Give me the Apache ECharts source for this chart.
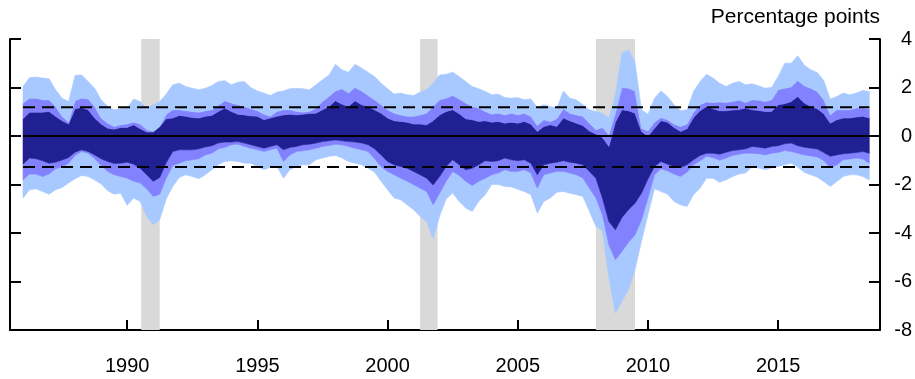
<!DOCTYPE html>
<html><head><meta charset="utf-8">
<script src="https://cdn.jsdelivr.net/npm/echarts@6/dist/echarts.min.js"></script>
<style>html,body{margin:0;padding:0;background:#fff}#c{width:915px;height:379px}</style>
</head><body><div id="c"></div>
<script>
const years = [1986,1986.25,1986.5,1986.75,1987,1987.25,1987.5,1987.75,1988,1988.25,1988.5,1988.75,1989,1989.25,1989.5,1989.75,1990,1990.25,1990.5,1990.75,1991,1991.25,1991.5,1991.75,1992,1992.25,1992.5,1992.75,1993,1993.25,1993.5,1993.75,1994,1994.25,1994.5,1994.75,1995,1995.25,1995.5,1995.75,1996,1996.25,1996.5,1996.75,1997,1997.25,1997.5,1997.75,1998,1998.25,1998.5,1998.75,1999,1999.25,1999.5,1999.75,2000,2000.25,2000.5,2000.75,2001,2001.25,2001.5,2001.75,2002,2002.25,2002.5,2002.75,2003,2003.25,2003.5,2003.75,2004,2004.25,2004.5,2004.75,2005,2005.25,2005.5,2005.75,2006,2006.25,2006.5,2006.75,2007,2007.25,2007.5,2007.75,2008,2008.25,2008.5,2008.75,2009,2009.25,2009.5,2009.75,2010,2010.25,2010.5,2010.75,2011,2011.25,2011.5,2011.75,2012,2012.25,2012.5,2012.75,2013,2013.25,2013.5,2013.75,2014,2014.25,2014.5,2014.75,2015,2015.25,2015.5,2015.75,2016,2016.25,2016.5,2016.75,2017,2017.25,2017.5,2017.75,2018,2018.25,2018.5];

// outer (light) band upper / lower edges
const lightUpper = [2.04,2.41,2.43,2.39,2.36,1.91,1.56,1.42,2.50,2.52,2.25,1.97,1.50,1.22,1.08,1.12,1.15,1.53,1.42,1.15,1.29,1.42,1.73,
2.11,2.18,2.04,1.97,1.91,1.97,2.08,2.25,2.28,2.11,2.22,2.25,2.00,1.86,1.77,1.67,1.81,1.86,1.95,1.97,1.95,1.91,
2.11,2.32,2.52,2.96,2.73,2.63,2.96,2.80,2.63,2.45,2.18,1.95,1.73,1.77,1.70,1.67,1.81,1.91,2.18,2.52,2.55,2.63,
2.45,2.25,2.04,1.95,1.84,1.70,1.73,1.59,1.56,1.59,1.49,1.53,1.18,1.29,1.22,1.15,1.86,1.56,1.49,1.29,1.08,1.01,
0.94,0.74,1.70,3.42,3.55,3.07,1.08,0.90,1.56,1.86,1.63,1.29,1.04,1.08,1.84,2.25,2.55,2.39,2.18,2.04,2.18,2.25,2.11,
2.15,2.07,1.97,2.01,2.45,3.00,3.00,3.31,2.93,2.73,2.62,2.29,1.52,1.63,1.77,1.70,1.77,1.88,1.84];
const midUpper = [1.35,1.56,1.56,1.49,1.49,1.22,0.81,0.57,1.45,1.56,1.53,1.22,0.74,0.53,0.39,0.46,0.50,0.57,0.49,0.26,0.19,0.39,0.90,
1.08,1.08,1.04,1.01,0.98,1.04,1.08,1.26,1.45,1.36,1.29,1.22,1.12,1.04,0.90,0.81,1.01,1.08,1.08,1.01,0.98,1.01,
1.15,1.42,1.63,1.86,1.95,1.77,2.00,1.86,1.67,1.49,1.29,1.08,0.94,0.87,0.81,0.81,0.87,0.94,1.22,1.49,1.56,1.67,
1.53,1.36,1.22,1.15,1.01,0.90,0.94,0.87,0.94,0.87,0.94,0.81,0.43,0.67,0.60,0.71,1.12,0.94,0.87,0.81,0.53,0.26,
0.35,0.05,0.94,2.00,1.97,1.86,0.32,0.21,0.57,0.76,0.67,0.49,0.39,0.49,0.98,1.29,1.40,1.38,1.40,1.38,1.42,1.48,1.38,
1.49,1.47,1.42,1.49,1.91,1.97,2.02,2.29,2.07,1.97,1.84,1.49,0.87,1.08,1.08,1.08,1.15,1.15,1.11];
const darkUpper = [0.71,0.98,0.98,0.98,1.01,0.81,0.63,0.49,1.12,1.18,1.08,0.74,0.49,0.32,0.28,0.35,0.35,0.46,0.30,0.16,0.16,0.39,0.71,
0.74,0.85,0.81,0.76,0.74,0.81,0.85,1.01,1.15,1.01,0.90,0.87,0.83,0.81,0.67,0.74,0.81,0.87,0.90,0.87,0.90,0.93,
0.94,1.08,1.22,1.45,1.31,1.22,1.45,1.29,1.22,1.08,0.94,0.74,0.63,0.60,0.57,0.49,0.49,0.46,0.63,0.87,1.01,1.08,
0.92,0.71,0.67,0.60,0.63,0.57,0.60,0.53,0.57,0.53,0.60,0.49,0.19,0.39,0.46,0.39,0.74,0.63,0.53,0.43,0.21,0.08,
-0.06,-0.43,0.57,1.08,1.04,0.94,0.19,-0.02,0.32,0.63,0.57,0.35,0.19,0.30,0.76,1.04,1.22,1.12,1.04,1.04,1.07,1.09,1.15,
1.08,1.05,1.01,1.01,1.29,1.33,1.42,1.63,1.36,1.22,1.12,0.92,0.53,0.67,0.74,0.74,0.78,0.81,0.74];
const darkLower = [-1.16,-0.91,-0.94,-1.02,-1.12,-1.08,-0.99,-0.89,-0.67,-0.57,-0.64,-0.78,-0.94,-1.05,-1.13,-1.12,-1.08,-1.16,-1.33,-1.60,-1.87,-1.71,-1.10,
-0.64,-0.57,-0.57,-0.57,-0.53,-0.45,-0.40,-0.29,-0.25,-0.25,-0.23,-0.29,-0.36,-0.43,-0.50,-0.43,-0.36,-0.57,-0.47,-0.43,-0.36,-0.34,
-0.29,-0.23,-0.20,-0.16,-0.20,-0.23,-0.25,-0.29,-0.36,-0.53,-0.78,-1.05,-1.19,-1.26,-1.33,-1.46,-1.60,-1.74,-2.02,-1.67,-1.26,-0.98,
-1.19,-1.39,-1.33,-1.19,-1.02,-1.05,-1.02,-0.91,-0.98,-1.02,-0.98,-1.12,-1.60,-1.19,-1.12,-1.08,-1.02,-1.08,-1.12,-1.19,-1.46,-1.74,
-2.56,-3.53,-3.87,-3.36,-3.04,-2.77,-2.36,-1.77,-1.26,-1.05,-1.16,-1.26,-1.30,-1.19,-0.98,-0.80,-0.71,-0.71,-0.75,-0.67,-0.60,-0.57,-0.53,
-0.43,-0.46,-0.50,-0.43,-0.40,-0.32,-0.29,-0.40,-0.46,-0.50,-0.54,-0.68,-0.84,-0.78,-0.73,-0.71,-0.68,-0.64,-0.71];
const midLower = [-1.81,-1.57,-1.57,-1.67,-1.57,-1.35,-1.27,-1.12,-0.80,-0.64,-0.71,-0.94,-1.22,-1.46,-1.60,-1.67,-1.74,-1.87,-1.94,-2.18,-2.49,-2.40,-1.74,
-1.22,-1.12,-1.02,-0.98,-0.94,-0.78,-0.71,-0.53,-0.47,-0.36,-0.34,-0.43,-0.50,-0.57,-0.64,-0.57,-0.50,-1.05,-0.78,-0.64,-0.61,-0.57,
-0.50,-0.43,-0.39,-0.34,-0.36,-0.43,-0.50,-0.57,-0.64,-0.94,-1.26,-1.46,-1.60,-1.74,-1.87,-2.01,-2.15,-2.29,-2.84,-2.36,-1.87,-1.46,
-1.63,-1.87,-2.04,-1.87,-1.74,-1.60,-1.53,-1.39,-1.46,-1.46,-1.39,-1.53,-2.15,-1.60,-1.53,-1.46,-1.46,-1.53,-1.60,-1.74,-2.15,-2.56,
-3.25,-4.49,-5.10,-4.76,-4.38,-4.08,-3.46,-2.56,-1.60,-1.35,-1.44,-1.57,-1.67,-1.49,-1.19,-1.02,-0.84,-0.89,-1.00,-0.91,-0.80,-0.75,-0.71,
-0.71,-0.73,-0.78,-0.71,-0.68,-0.60,-0.64,-0.71,-0.78,-0.82,-0.87,-1.01,-1.32,-1.19,-0.98,-0.95,-0.91,-0.95,-1.12];
const lightLower = [-2.56,-2.22,-2.18,-2.29,-2.40,-2.22,-2.12,-1.94,-1.76,-1.63,-1.67,-1.81,-1.98,-2.26,-2.40,-2.36,-2.86,-2.56,-2.70,-3.32,-3.66,-3.45,-2.60,
-2.08,-1.71,-1.60,-1.67,-1.76,-1.60,-1.39,-1.19,-1.05,-1.02,-1.05,-1.12,-1.12,-1.26,-1.39,-1.30,-1.26,-1.74,-1.39,-1.26,-1.19,-1.19,
-0.98,-0.91,-0.84,-0.80,-0.91,-1.05,-1.12,-1.19,-1.33,-1.49,-1.87,-2.22,-2.56,-2.63,-2.84,-3.04,-3.32,-3.53,-4.24,-3.30,-2.60,-2.35,
-2.70,-2.97,-3.11,-2.70,-2.42,-2.00,-2.00,-2.08,-2.10,-2.20,-2.29,-2.42,-3.18,-2.70,-2.56,-2.32,-2.29,-2.36,-2.42,-2.49,-3.11,-3.73,
-3.90,-5.86,-7.30,-6.82,-6.34,-5.52,-4.35,-3.25,-2.18,-2.29,-2.40,-2.70,-2.84,-2.91,-2.42,-2.15,-1.74,-1.74,-1.91,-1.81,-1.67,-1.57,-1.53,
-1.26,-1.32,-1.39,-1.32,-1.26,-1.19,-1.12,-1.28,-1.50,-1.60,-1.70,-1.88,-2.08,-1.88,-1.67,-1.60,-1.60,-1.67,-1.81];

const recessions = [[1990.54, 1991.25], [2001.25, 2001.92], [2008.0, 2009.5]];
const xTickYears = [1990, 1995, 2000, 2005, 2010, 2015];
const thresholds = [1.19, -1.28];
const unitLabel = 'Percentage points';

const LIGHT = '#a8c9ff', MID = '#8282ff', DARK = '#202092', GRAY = '#d9d9d9';
const FONT = '"Liberation Sans", Arial, Helvetica, sans-serif';

// bands: between consecutive edges, from bottom to top
const edges = [lightLower, midLower, darkLower, darkUpper, midUpper, lightUpper];
const bandColors = [LIGHT, MID, DARK, MID, LIGHT];

function renderBand(params, api) {
  const k = params.dataIndex;
  const lo = edges[k], hi = edges[k + 1];
  const pts = [];
  for (let i = 0; i < years.length; i++) pts.push(api.coord([years[i], hi[i]]));
  for (let i = years.length - 1; i >= 0; i--) pts.push(api.coord([years[i], lo[i]]));
  return { type: 'polygon', shape: { points: pts }, style: { fill: bandColors[k], stroke: bandColors[k], lineWidth: 0.6 } };
}

const series = [];
series.push({ type: 'line', data: [], silent: true, z: 1,
  markArea: { silent: true, itemStyle: { color: GRAY }, data: recessions.map(r => [{ xAxis: r[0] }, { xAxis: r[1] }]) } });
series.push({ type: 'custom', silent: true, z: 2, renderItem: renderBand,
  data: bandColors.map((c, k) => [years[0], k]), encode: { x: 0, y: 1 } });
const x0 = years[0], x1 = years[years.length - 1];
series.push({ type: 'line', data: [[x0, 0], [x1, 0]], symbol: 'none', silent: true, z: 5,
  lineStyle: { color: '#000', width: 2.2 } });
thresholds.forEach(t => series.push({ type: 'line', data: [[x0, t], [x1, t]], symbol: 'none', silent: true, z: 5,
  lineStyle: { color: '#000', width: 2, type: [12, 7] } }));

const yCommon = { type: 'value', min: -8, max: 4, interval: 2, splitLine: { show: false },
  axisLine: { show: true, onZero: false, lineStyle: { color: '#000', width: 2 } },
  axisTick: { show: true, inside: true, length: 11, lineStyle: { color: '#000', width: 2 } } };

const chart = echarts.init(document.getElementById('c'), null, { renderer: 'canvas' });
chart.setOption({
  animation: false,
  backgroundColor: '#fff',
  grid: { left: 10, right: 33, top: 39, bottom: 49, containLabel: false },
  graphic: [{ type: 'text', right: 35, top: 7, style: { text: unitLabel, font: '21px ' + FONT, fill: '#000' } }],
  xAxis: { type: 'value', min: 1985.5, max: 2018.91, splitLine: { show: false },
    axisLine: { show: true, onZero: false, lineStyle: { color: '#000', width: 2 } },
    axisTick: { show: true, inside: true, length: 10, customValues: xTickYears, lineStyle: { color: '#000', width: 2 } },
    axisLabel: { show: true, customValues: xTickYears, margin: 26, fontSize: 20, color: '#000', fontFamily: FONT,
      formatter: v => String(Math.round(v)) } },
  yAxis: [
    Object.assign({}, yCommon, { position: 'left', axisLabel: { show: false } }),
    Object.assign({}, yCommon, { position: 'right', axisLabel: { show: true, align: 'right', margin: 32, fontSize: 20, color: '#000', fontFamily: FONT } })
  ],
  series: series
});
</script></body></html>
